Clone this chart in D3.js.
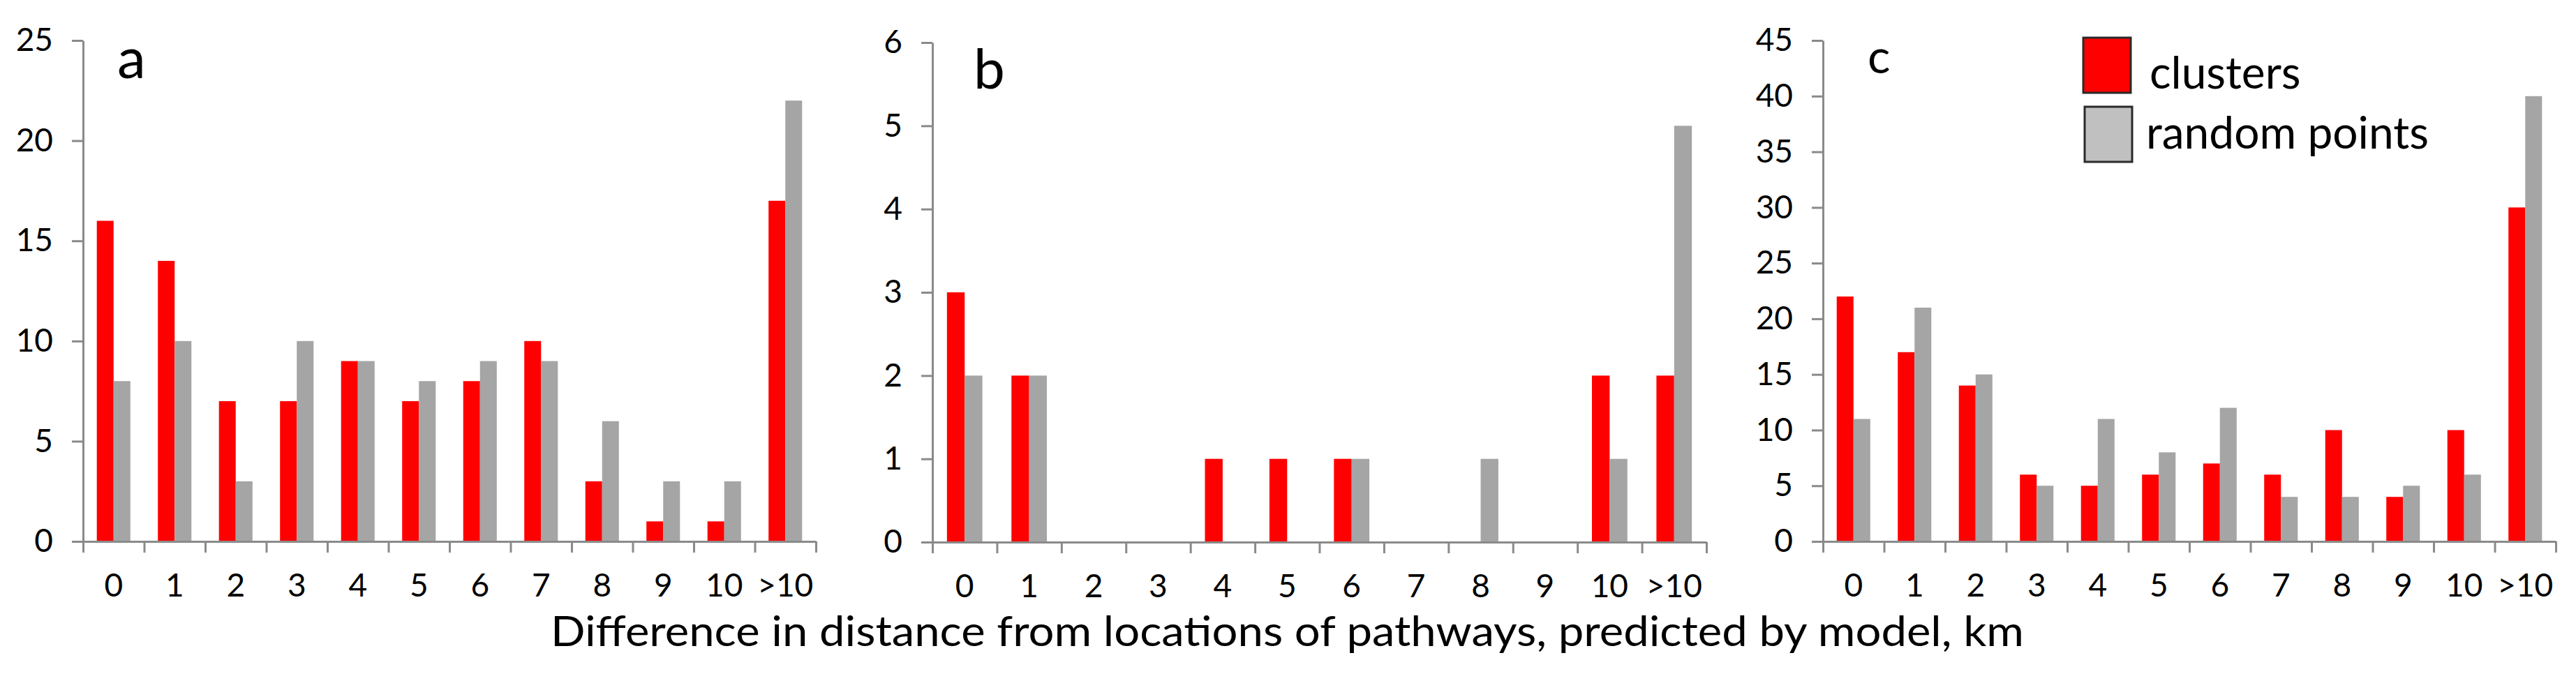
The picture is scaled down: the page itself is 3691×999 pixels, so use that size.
<!DOCTYPE html>
<html>
<head>
<meta charset="utf-8">
<script src="https://cdn.jsdelivr.net/npm/d3@7"></script>
<style>
  body { margin: 0; background: #fff; }
  svg text { font-family: Lato, "Open Sans", sans-serif; fill: #000; }
</style>
</head>
<body>
<div id="chart"></div>
<script>
const categories = ["0", "1", "2", "3", "4", "5", "6", "7", "8", "9", "10", ">10"];
const seriesNames = ["clusters", "random points"];

const clustersA = [16, 14, 7, 7, 9, 7, 8, 10, 3, 1, 1, 17];
const randomA   = [8, 10, 3, 10, 9, 8, 9, 9, 6, 3, 3, 22];
const clustersB = [3, 2, 0, 0, 1, 1, 1, 0, 0, 0, 2, 2];
const randomB   = [2, 2, 0, 0, 0, 0, 1, 0, 1, 0, 1, 5];
const clustersC = [22, 17, 14, 6, 5, 6, 7, 6, 10, 4, 10, 30];
const randomC   = [11, 21, 15, 5, 11, 8, 12, 4, 4, 5, 6, 40];

const yTicksA = [0, 5, 10, 15, 20, 25];
const yTicksB = [0, 1, 2, 3, 4, 5, 6];
const yTicksC = [0, 5, 10, 15, 20, 25, 30, 35, 40, 45];

const xTitle = "Difference in distance from locations of pathways, predicted by model, km";

const colors = { "clusters": "#ff0000", "random points": "#a5a5a5" };
const axisColor = "#8a8a8a";

const panels = [
    { letter: "a", clusters: clustersA, random: randomA, ticks: yTicksA,
      x0: 119, x1: 1169, top: 58, bottom: 776, lx: 168, ly: 112, lsize: 82 },
    { letter: "b", clusters: clustersB, random: randomB, ticks: yTicksB,
      x0: 1336, x1: 2445, top: 61, bottom: 777, lx: 1395, ly: 127, lsize: 80 },
    { letter: "c", clusters: clustersC, random: randomC, ticks: yTicksC,
      x0: 2612, x1: 3662, top: 58, bottom: 776, lx: 2676, ly: 105, lsize: 68 }
];

const W = 3691, H = 999;
const svg = d3.select("#chart").append("svg")
    .attr("width", W)
    .attr("height", H);

panels.forEach(function(p) { drawPanel(p); });

function drawPanel(p) {
    const g = svg.append("g");

    const x = d3.scaleBand()
        .domain(categories)
        .range([p.x0, p.x1])
        .padding(0);

    const x1 = d3.scaleBand()
        .domain(seriesNames)
        .range([0, x.bandwidth()])
        .paddingInner(0)
        .paddingOuter(0.82);

    const xEdge = d3.scaleLinear()
        .domain([0, categories.length])
        .range([p.x0, p.x1]);

    const y = d3.scaleLinear()
        .domain([0, d3.max(p.ticks)])
        .range([p.bottom, p.top]);

    const rows = categories.map(function(c, i) {
        return [
            { cat: c, name: "clusters", value: p.clusters[i] },
            { cat: c, name: "random points", value: p.random[i] }
        ];
    });

    g.selectAll("g.group")
        .data(rows).enter()
        .append("g")
            .attr("class", "group")
            .attr("transform", function(d) { return `translate(${x(d[0].cat)},0)`; })
        .selectAll("rect")
        .data(function(d) { return d; }).enter()
        .append("rect")
            .attr("x", function(d) { return x1(d.name); })
            .attr("y", function(d) { return y(d.value); })
            .attr("width", x1.bandwidth())
            .attr("height", function(d) { return y(0) - y(d.value); })
            .style("fill", function(d) { return colors[d.name]; });

    // y axis
    const yAxis = g.append("g")
        .attr("transform", `translate(${p.x0},0)`)
        .call(d3.axisLeft(y).tickValues(p.ticks).tickFormat(d3.format("d"))
            .tickSize(16).tickSizeOuter(0).tickPadding(27));
    yAxis.selectAll("path, line").attr("stroke", axisColor).attr("stroke-width", 3);
    yAxis.selectAll("text").style("font-size", "46px").attr("fill", "#000");

    // x axis: ticks on category boundaries
    const xAxis = g.append("g")
        .attr("transform", `translate(0,${p.bottom})`)
        .call(d3.axisBottom(xEdge).tickValues(d3.range(categories.length + 1))
            .tickFormat("").tickSize(16).tickSizeOuter(0));
    xAxis.selectAll("path, line").attr("stroke", axisColor).attr("stroke-width", 3);

    // x labels centred in bands
    const xLabels = g.append("g")
        .attr("transform", `translate(0,${p.bottom})`)
        .call(d3.axisBottom(x).tickSize(0).tickPadding(46));
    xLabels.select(".domain").remove();
    xLabels.selectAll("text").style("font-size", "46px").attr("fill", "#000");

    g.append("text")
        .attr("x", p.lx)
        .attr("y", p.ly)
        .style("font-size", p.lsize + "px")
        .text(p.letter);
}

// legend
const legend = svg.append("g");
const legendRows = [
    { name: "clusters", bx: 2985, by: 54, tx: 3080, ty: 127, fill: "#ff0000" },
    { name: "random points", bx: 2987, by: 153, tx: 3075, ty: 213, fill: "#c0c0c0" }
];
legend.selectAll("rect")
    .data(legendRows).enter()
    .append("rect")
        .attr("x", function(d) { return d.bx; })
        .attr("y", function(d) { return d.by; })
        .attr("width", 68)
        .attr("height", 79)
        .style("fill", function(d) { return d.fill; })
        .style("stroke", "#2a2a2a")
        .style("stroke-width", 3);
legend.selectAll("text")
    .data(legendRows).enter()
    .append("text")
        .attr("x", function(d) { return d.tx; })
        .attr("y", function(d) { return d.ty; })
        .style("font-size", "64px")
        .text(function(d) { return d.name; });

// shared x title
svg.append("text")
    .attr("x", 789)
    .attr("y", 926)
    .attr("textLength", 2111)
    .attr("lengthAdjust", "spacingAndGlyphs")
    .style("font-size", "60px")
    .text(xTitle);
</script>
</body>
</html>
